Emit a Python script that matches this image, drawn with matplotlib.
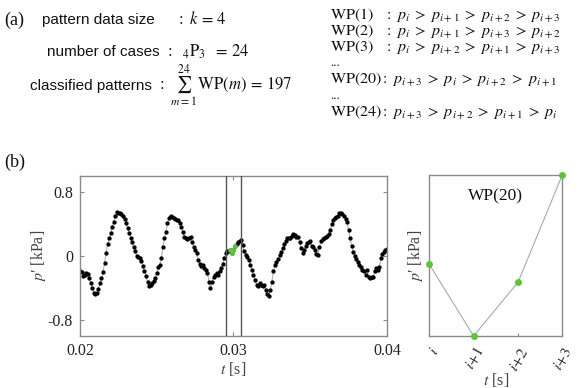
import numpy as np
import matplotlib
matplotlib.use("Agg")
import matplotlib.pyplot as plt

plt.rcParams['mathtext.fontset'] = 'stix'
plt.rcParams['font.family'] = ['Liberation Serif', 'DejaVu Serif']

# ---------------- data ----------------
t_start = 0.02          # s
dt = 0.0001             # s, sample interval
p_kpa = [
    -0.19, -0.20, -0.25, -0.24, -0.21, -0.22, -0.28, -0.34, -0.40, -0.46,
    -0.48, -0.46, -0.41, -0.34, -0.27, -0.20, -0.09, 0.04, 0.15, 0.22,
    0.29, 0.36, 0.43, 0.50, 0.55, 0.54, 0.54, 0.52, 0.50, 0.46,
    0.41, 0.35, 0.29, 0.23, 0.17, 0.11, 0.06, 0.00, -0.01, -0.02,
    -0.06, -0.12, -0.19, -0.25, -0.33, -0.37, -0.36, -0.34, -0.31, -0.27,
    -0.21, -0.14, -0.11, -0.03, 0.11, 0.22, 0.30, 0.41, 0.47, 0.50,
    0.49, 0.47, 0.46, 0.45, 0.45, 0.41, 0.36, 0.30, 0.24, 0.22,
    0.21, 0.22, 0.24, 0.18, 0.11, 0.08, 0.04, -0.05, -0.10, -0.13,
    -0.11, -0.15, -0.17, -0.21, -0.32, -0.40, -0.32, -0.26, -0.24, -0.21,
    -0.24, -0.19, -0.15, -0.10, -0.03, 0.04, 0.06, 0.065, 0.08, 0.04,
    0.07, 0.13, 0.15, 0.17, 0.19, 0.20, 0.14, 0.06, 0.01, -0.01,
    -0.05, -0.11, -0.17, -0.24, -0.30, -0.36, -0.37, -0.34, -0.36, -0.38,
    -0.36, -0.42, -0.47, -0.50, -0.42, -0.32, -0.19, -0.11, -0.08, -0.04,
    0.01, 0.05, 0.10, 0.15, 0.19, 0.22, 0.22, 0.23, 0.25, 0.28,
    0.26, 0.24, 0.24, 0.18, 0.10, 0.04, 0.07, 0.12, 0.16, 0.18,
    0.19, 0.12, 0.11, 0.07, 0.03, 0.01, 0.11, 0.19, 0.21, 0.22,
    0.24, 0.25, 0.27, 0.32, 0.40, 0.45, 0.48, 0.49, 0.50, 0.54,
    0.54, 0.52, 0.50, 0.46, 0.43, 0.32, 0.22, 0.12, 0.05, 0.00,
    -0.04, -0.08, -0.11, -0.14, -0.17, -0.19, -0.24, -0.17, -0.26, -0.28,
    -0.26, -0.26, -0.19, -0.15, -0.17, -0.14, -0.03, 0.03, 0.05, 0.07,
    0.09,
]
k = 4                      # pattern data size
window_start = 98          # first sample of the highlighted pattern
window_bounds = [0.02953, 0.03050]   # s, vertical markers
pattern_labels = ['$i$', '$i{+}1$', '$i{+}2$', '$i{+}3$']
pattern_name = 'WP(20)'

left_xticks = [0.02, 0.03, 0.04]
left_xticklabels = ['0.02', '0.03', '0.04']
left_yticks = [-0.8, 0, 0.8]
left_yticklabels = ['-0.8', '0', '0.8']

# ---------------- figure ----------------
W, H = 583, 388
fig = plt.figure(figsize=(W / 100, H / 100), dpi=100)

def fx(x):
    return x / W

def fy(y):
    return 1 - y / H

spine_c = '#8a8a8a'
txt_c = '#222222'
lab_c = '#444444'

p = np.array(p_kpa)
t = t_start + dt * np.arange(len(p))
win = slice(window_start, window_start + k)

# left axes
ax1 = fig.add_axes([fx(80), fy(336), (387 - 80) / W, (336 - 176) / H])
ax1.plot(t, p, color='#aaaaaa', lw=0.7, zorder=1)
ax1.plot(t, p, 'o', color='black', ms=3.1, mec='none', zorder=2)
ax1.plot(t[win], p[win], 'o', color='#5cc43a', ms=3.4, mec='none', zorder=3)
for xb in window_bounds:
    ax1.axvline(xb, color='#555555', lw=1.0, zorder=4)
ax1.set_xlim(0.02, 0.04)
ax1.set_ylim(-1.0, 1.0)
ax1.set_xticks(left_xticks)
ax1.set_xticklabels(left_xticklabels)
ax1.set_yticks(left_yticks)
ax1.set_yticklabels(left_yticklabels)
ax1.tick_params(direction='in', length=3, width=0.8, color=spine_c,
                top=True, right=True, labelsize=11.5, labelcolor=txt_c, pad=5)
for s in ax1.spines.values():
    s.set_color(spine_c)
    s.set_linewidth(1.0)
ax1.set_ylabel("$p$\u2032 [kPa]", fontsize=11.5, color=lab_c, labelpad=0)
ax1.set_xlabel("$t$ [s]", fontsize=11.5, color=lab_c, labelpad=1)

# right axes
ax2 = fig.add_axes([fx(429.3), fy(336), (562.3 - 429.3) / W, (336 - 175) / H])
pw = p[win]
xi = np.arange(k)
ax2.plot(xi, pw, color='#aaaaaa', lw=0.8, zorder=1)
ax2.plot(xi, pw, 'o', color='#5cc43a', ms=5, mec='none', zorder=3, clip_on=False)
ax2.set_xlim(0, k - 1)
ax2.set_ylim(pw.min(), pw.max())
ax2.set_xticks(xi)
ax2.set_xticklabels(pattern_labels, rotation=60, ha='right', va='top',
                    rotation_mode='anchor')
ax2.set_yticks([])
ax2.tick_params(direction='in', length=2.5, width=0.8, color=spine_c,
                labelsize=11.5, labelcolor='#333333', pad=6)
for s in ax2.spines.values():
    s.set_color(spine_c)
    s.set_linewidth(1.0)
ax2.set_ylabel("$p$\u2032 [kPa]", fontsize=11.5, color=lab_c, labelpad=3)
ax2.set_xlabel("$t$ [s]", fontsize=11.5, color=lab_c, labelpad=-2)
ax2.text(0.5, 0.87, pattern_name, transform=ax2.transAxes, ha='center',
         va='center', fontsize=12.5, color='#111111')

# ---------------- panel (a) text ----------------
sans = ['Liberation Sans', 'DejaVu Sans']
fig.text(fx(4), fy(20), '(a)', fontsize=13, va='center', color='#111111')
fig.text(fx(4), fy(162), '(b)', fontsize=13, va='center', color='#111111')

fig.text(fx(42), fy(20), 'pattern data size', family=sans, fontsize=11,
         va='center', color='#111111')
fig.text(fx(176), fy(20), r'$:\ k\,=\,4$', fontsize=12, va='center',
         color='#111111')

fig.text(fx(160), fy(52), 'number of cases', family=sans, fontsize=11,
         va='center', ha='right', color='#111111')
fig.text(fx(165), fy(52), r'$:\ \ {}_{4}\mathrm{P}_{3}\ \ =\,24$', fontsize=12,
         va='center', color='#111111')

fig.text(fx(152), fy(86), 'classified patterns', family=sans, fontsize=11,
         va='center', ha='right', color='#111111')
fig.text(fx(157), fy(86), r'$:\ \sum_{m=1}^{24}\,\mathrm{WP}(m)\,=\,197$',
         fontsize=12, va='center', color='#111111')

G = r'\;>\;'
rules = [
    (15, r'$\mathrm{WP}(1)\ \ \ :\ p_i' + G + 'p_{i+1}' + G + 'p_{i+2}' + G + 'p_{i+3}$'),
    (31, r'$\mathrm{WP}(2)\ \ \ :\ p_i' + G + 'p_{i+1}' + G + 'p_{i+3}' + G + 'p_{i+2}$'),
    (47, r'$\mathrm{WP}(3)\ \ \ :\ p_i' + G + 'p_{i+2}' + G + 'p_{i+1}' + G + 'p_{i+3}$'),
    (79, r'$\mathrm{WP}(20):\ p_{i+3}' + G + 'p_i' + G + 'p_{i+2}' + G + 'p_{i+1}$'),
    (112, r'$\mathrm{WP}(24):\ p_{i+3}' + G + 'p_{i+2}' + G + 'p_{i+1}' + G + 'p_i$'),
]
for y, s in rules:
    fig.text(fx(330), fy(y), s, fontsize=11.5, va='center', color='#111111')
for y in (63, 96):
    fig.text(fx(330), fy(y), '...', fontsize=9, va='center', color='#111111')

fig.savefig('out.png', dpi=100)
